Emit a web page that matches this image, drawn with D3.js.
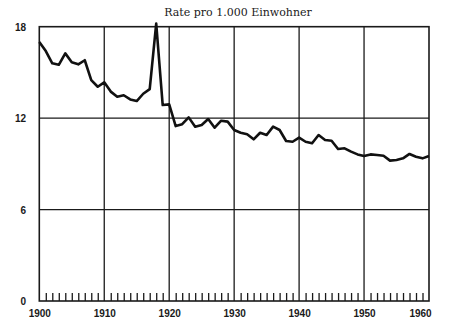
<!DOCTYPE html>
<html><head><meta charset="utf-8">
<script src="https://cdn.jsdelivr.net/npm/d3@7"></script>
<style>html,body{margin:0;padding:0;background:#fff;}</style>
</head><body>
<svg id="c" width="450" height="329"></svg>
<script>
const years = d3.range(1900, 1961);
const rates = [17.0,16.4,15.6,15.5,16.25,15.66,15.53,15.8,14.5,14.06,
  14.35,13.74,13.4,13.5,13.23,13.12,13.6,13.9,18.2,12.86,
  12.9,11.48,11.6,12.05,11.44,11.55,11.94,11.37,11.83,11.77,
  11.22,11.04,10.94,10.61,11.04,10.89,11.44,11.22,10.5,10.45,
  10.72,10.45,10.35,10.89,10.56,10.52,9.97,10.02,9.8,9.62,
  9.51,9.62,9.58,9.53,9.21,9.25,9.36,9.65,9.47,9.36,9.51];
const decadeTicks = [1900,1910,1920,1930,1940,1950,1960];
const minorTicks = years.filter(y => y % 10 !== 0);
const yTicks = [0,6,12,18];
const title = "Rate pro 1.000 Einwohner";

const svg = d3.select("#c");
const x = d3.scaleLinear().domain([1900,1960]).range([39.3,429]);
const y = d3.scaleLinear().domain([0,18]).range([301,26.7]);
const ink = "#1a1a1a";

// grid
svg.append("g").selectAll("line").data([6,12]).join("line")
  .attr("x1", x(1900)).attr("x2", x(1960))
  .attr("y1", d=>y(d)).attr("y2", d=>y(d))
  .attr("stroke", ink).attr("stroke-width", 1.3);
svg.append("g").selectAll("line").data(decadeTicks.slice(1,-1)).join("line")
  .attr("x1", d=>x(d)).attr("x2", d=>x(d))
  .attr("y1", y(0)).attr("y2", y(18))
  .attr("stroke", ink).attr("stroke-width", 1.3);
// frame
svg.append("rect").attr("x", x(1900)).attr("y", y(18))
  .attr("width", x(1960)-x(1900)).attr("height", y(0)-y(18))
  .attr("fill","none").attr("stroke", ink).attr("stroke-width", 1.6);

// minor ticks (inside, upward)
const minorAxis = d3.axisBottom(x).tickValues(minorTicks).tickSize(-8).tickFormat("");
const gm = svg.append("g").attr("transform", `translate(0,${y(0)})`).call(minorAxis);
gm.select(".domain").remove();
gm.selectAll(".tick line").attr("stroke", ink).attr("stroke-width", 1.3);

// x labels
const xAxis = d3.axisBottom(x).tickValues(decadeTicks).tickSize(0).tickPadding(0).tickFormat(d3.format("d"));
const gx = svg.append("g").attr("transform", `translate(0,${y(0)})`).call(xAxis);
gx.select(".domain").remove();
gx.selectAll("text").attr("dy", null).attr("y", 16)
  .attr("font-family","'Liberation Sans', Arial, sans-serif")
  .attr("font-weight","bold").attr("font-size", 10).attr("fill", ink)
  .attr("x", d => d === 1960 ? -9 : 0);

// y labels
const yAxis = d3.axisLeft(y).tickValues(yTicks).tickSize(0).tickPadding(0).tickFormat(d3.format("d"));
const gy = svg.append("g").attr("transform", `translate(26,0)`).call(yAxis);
gy.select(".domain").remove();
gy.selectAll("text").attr("x", 0).attr("dy", "0.35em")
  .attr("font-family","'Liberation Sans', Arial, sans-serif")
  .attr("font-weight","bold").attr("font-size", 10).attr("fill", ink);

// line
const line = d3.line().x((d,i)=>x(years[i])).y(d=>y(d)).curve(d3.curveLinear);
svg.append("path").datum(rates).attr("d", line)
  .attr("fill","none").attr("stroke","#111").attr("stroke-width", 2.6)
  .attr("stroke-linejoin","round");

// title
svg.append("text").attr("x", 238).attr("y", 16).attr("text-anchor","middle")
  .attr("font-family","'DejaVu Serif', serif").attr("font-size", 11).attr("fill", ink)
  .text(title);
</script>
</body></html>
